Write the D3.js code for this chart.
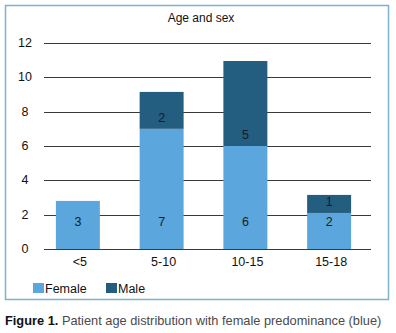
<!DOCTYPE html>
<html>
<head>
<meta charset="utf-8">
<script src="https://cdn.jsdelivr.net/npm/d3@7"></script>
<style>
    body { margin: 0; background: #fff; }
    svg { font-family: "Liberation Sans", Arial, sans-serif; }
</style>
</head>
<body>
<div id="chart"></div>
<script>
// values (bar heights), labels show rounded counts
const ageGroups = ["<5", "5-10", "10-15", "15-18"];
const female = [2.8, 7, 6, 2.1];
const male = [0, 2.15, 4.95, 1.05];
const yTicks = [0, 2, 4, 6, 8, 10, 12];
const seriesNames = ["Female", "Male"];
const colors = ["#5ba6dc", "#235d7f"];

const W = 396, H = 333;
const svg = d3.select("#chart").append("svg")
    .attr("width", W)
    .attr("height", H);

// outer frame
svg.append("rect")
    .attr("x", 5.5).attr("y", 5.5)
    .attr("width", 383).attr("height", 294)
    .attr("fill", "none")
    .attr("stroke", "#7fb1cd")
    .attr("stroke-width", 1.5);

svg.append("text")
    .attr("x", 201).attr("y", 18)
    .attr("text-anchor", "middle")
    .attr("dominant-baseline", "central")
    .attr("font-size", 12)
    .attr("fill", "#111")
    .text("Age and sex");

let x = d3.scaleBand()
    .domain(ageGroups)
    .range([36, 371])
    .paddingInner(0.475)
    .paddingOuter(0.2375);

let y = d3.scaleLinear()
    .domain([0, 12])
    .range([249, 43]);

// gridlines
svg.append("g")
    .selectAll("line")
    .data(yTicks)
    .enter()
    .append("line")
    .attr("x1", 44).attr("x2", 371)
    .attr("y1", d => Math.round(y(d)) + 0.5)
    .attr("y2", d => Math.round(y(d)) + 0.5)
    .attr("stroke", "#3a3a3a")
    .attr("stroke-width", 1);

// y tick labels
svg.append("g")
    .selectAll("text")
    .data(yTicks)
    .enter()
    .append("text")
    .attr("x", 25)
    .attr("y", d => y(d))
    .attr("text-anchor", "middle")
    .attr("dominant-baseline", "central")
    .attr("font-size", 12.5)
    .attr("fill", "#111")
    .text(d => d);

// stacked bars
let rows = ageGroups.map((g, i) => ({group: g, Female: female[i], Male: male[i]}));
let stack = d3.stack().keys(seriesNames)(rows);

svg.append("g")
    .selectAll("g")
    .data(stack)
    .enter()
    .append("g")
    .attr("fill", (d, i) => colors[i])
    .selectAll("rect")
    .data(d => d.filter(p => p[1] - p[0] > 0))
    .enter()
    .append("rect")
    .attr("x", d => x(d.data.group))
    .attr("width", x.bandwidth())
    .attr("y", d => y(d[1]))
    .attr("height", d => y(d[0]) - y(d[1]));

// female labels sit at a common height near the bottom
svg.append("g")
    .selectAll("text")
    .data(rows)
    .enter()
    .append("text")
    .attr("x", d => x(d.group) + x.bandwidth() / 2)
    .attr("y", y(1.6))
    .attr("text-anchor", "middle")
    .attr("dominant-baseline", "central")
    .attr("font-size", 12.5)
    .attr("fill", "#1a1a1a")
    .text(d => Math.round(d.Female));

// male labels just above the female segment
svg.append("g")
    .selectAll("text")
    .data(rows.filter(d => d.Male > 0))
    .enter()
    .append("text")
    .attr("x", d => x(d.group) + x.bandwidth() / 2)
    .attr("y", d => y(d.Female) - 11)
    .attr("text-anchor", "middle")
    .attr("dominant-baseline", "central")
    .attr("font-size", 12.5)
    .attr("fill", "#1a1a1a")
    .text(d => Math.round(d.Male));

// x labels
svg.append("g")
    .selectAll("text")
    .data(ageGroups)
    .enter()
    .append("text")
    .attr("x", d => x(d) + x.bandwidth() / 2 + 2)
    .attr("y", 262)
    .attr("text-anchor", "middle")
    .attr("dominant-baseline", "central")
    .attr("font-size", 12.5)
    .attr("fill", "#111")
    .text(d => d);

// legend
let legendX = [33, 106];
let legend = svg.append("g")
    .selectAll("g")
    .data(seriesNames)
    .enter()
    .append("g")
    .attr("transform", (d, i) => `translate(${legendX[i]}, 283)`);

legend.append("rect")
    .attr("width", 11).attr("height", 10)
    .attr("fill", (d, i) => colors[i]);

legend.append("text")
    .attr("x", 12)
    .attr("y", 5.5)
    .attr("dominant-baseline", "central")
    .attr("font-size", 12.5)
    .attr("fill", "#111")
    .text(d => d);

// caption
let cap = svg.append("text")
    .attr("x", 5)
    .attr("y", 320)
    .attr("dominant-baseline", "central")
    .attr("font-size", 12.8);
cap.append("tspan")
    .attr("font-weight", "bold")
    .attr("fill", "#111")
    .text("Figure 1.");
cap.append("tspan")
    .attr("fill", "#4a4a4a")
    .text(" Patient age distribution with female predominance (blue)");
</script>
</body>
</html>
